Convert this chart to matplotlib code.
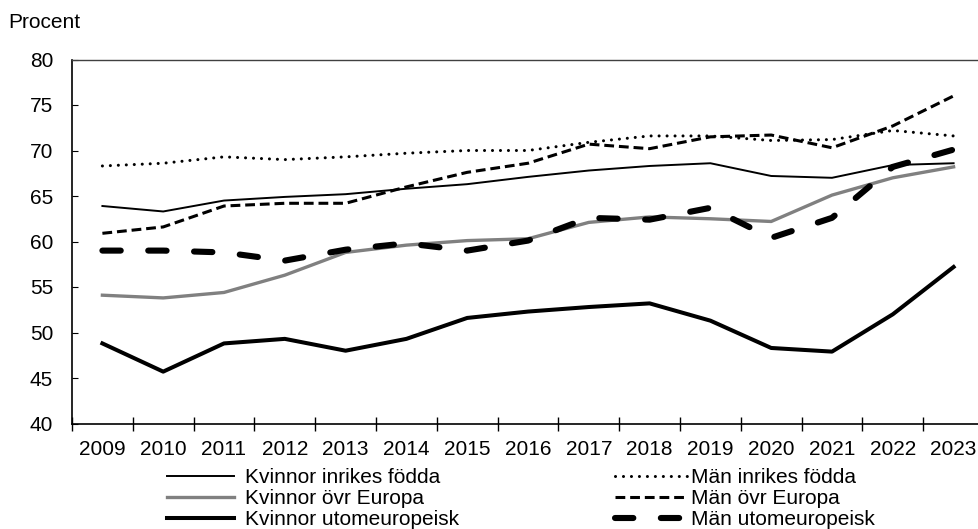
import numpy as np
import matplotlib.pyplot as plt
from matplotlib.ticker import FixedLocator, NullFormatter

plt.rcParams['font.family'] = ['Liberation Sans', 'DejaVu Sans']

years = [str(y) for y in range(2009, 2024)]

kvinnor_inrikes = [63.9, 63.3, 64.5, 64.9, 65.2, 65.8, 66.3, 67.1, 67.8, 68.3, 68.6, 67.2, 67.0, 68.4, 68.6]
man_inrikes = [68.3, 68.6, 69.3, 69.0, 69.3, 69.7, 70.0, 70.0, 70.9, 71.6, 71.6, 71.1, 71.2, 72.2, 71.6]
kvinnor_europa = [54.1, 53.8, 54.4, 56.3, 58.8, 59.6, 60.1, 60.3, 62.1, 62.7, 62.5, 62.2, 65.1, 67.0, 68.2]
man_europa = [60.9, 61.6, 63.9, 64.2, 64.2, 66.0, 67.6, 68.6, 70.7, 70.2, 71.5, 71.7, 70.3, 72.7, 76.0]
kvinnor_utom = [48.8, 45.7, 48.8, 49.3, 48.0, 49.3, 51.6, 52.3, 52.8, 53.2, 51.3, 48.3, 47.9, 52.0, 57.2]
man_utom = [59.0, 59.0, 58.8, 57.9, 59.1, 59.8, 59.0, 60.1, 62.6, 62.4, 63.7, 60.4, 62.6, 68.2, 70.1]

fig = plt.figure(figsize=(9.79, 5.29), dpi=100)
ax = fig.add_axes([72 / 979, 1 - 423.5 / 529, 912 / 979, 364 / 529])

x = np.arange(len(years))

l1, = ax.plot(x, kvinnor_inrikes, color='black', lw=1.4, label='Kvinnor inrikes födda')
l2, = ax.plot(x, kvinnor_europa, color='#808080', lw=2.4, label='Kvinnor övr Europa')
l3, = ax.plot(x, kvinnor_utom, color='black', lw=2.9, label='Kvinnor utomeuropeisk')
l4, = ax.plot(x, man_inrikes, color='black', lw=2.2, linestyle=(0, (0.01, 2.6)),
              dash_capstyle='round', label='Män inrikes födda')
l5, = ax.plot(x, man_europa, color='black', lw=2.2, linestyle=(0, (3.2, 1.6)), label='Män övr Europa')
l6, = ax.plot(x, man_utom, color='black', lw=4.4, linestyle=(0, (3.0, 4.5)),
              dash_capstyle='round', label='Män utomeuropeisk')

ax.set_xlim(-0.5, 14.5)
ax.set_ylim(40, 80)
ax.set_yticks(np.arange(40, 81, 5))
ax.tick_params(axis='y', direction='in', length=4, pad=13.5, labelsize=15)

ax.xaxis.set_major_locator(FixedLocator(np.arange(-0.5, 15, 1)))
ax.xaxis.set_major_formatter(NullFormatter())
ax.set_xticks(x, years, minor=True)
ax.tick_params(axis='x', which='major', direction='inout', length=10, width=1)
ax.tick_params(axis='x', which='minor', length=0, pad=12, labelsize=15)

ax.spines['right'].set_visible(False)
for s in ['left', 'bottom']:
    ax.spines[s].set_linewidth(1.2)
ax.spines['top'].set_linewidth(1.0)
ax.spines['top'].set_color('#404040')

fig.text(8 / 979, 1 - 22 / 529, 'Procent', fontsize=15, va='center', ha='left')

leg1 = fig.legend([l1, l2, l3], [l1.get_label(), l2.get_label(), l3.get_label()],
                  loc='upper left', bbox_to_anchor=(167 / 979, 1 - 468 / 529),
                  frameon=False, fontsize=15, handlelength=3.2, handletextpad=0.53,
                  labelspacing=0.1, borderpad=0, borderaxespad=0)
leg2 = fig.legend([l4, l5, l6], [l4.get_label(), l5.get_label(), l6.get_label()],
                  loc='upper left', bbox_to_anchor=(615 / 979, 1 - 468 / 529),
                  frameon=False, fontsize=15, handlelength=3.45, handletextpad=0.2,
                  labelspacing=0.1, borderpad=0, borderaxespad=0)

fig.savefig('out.png', dpi=100)
